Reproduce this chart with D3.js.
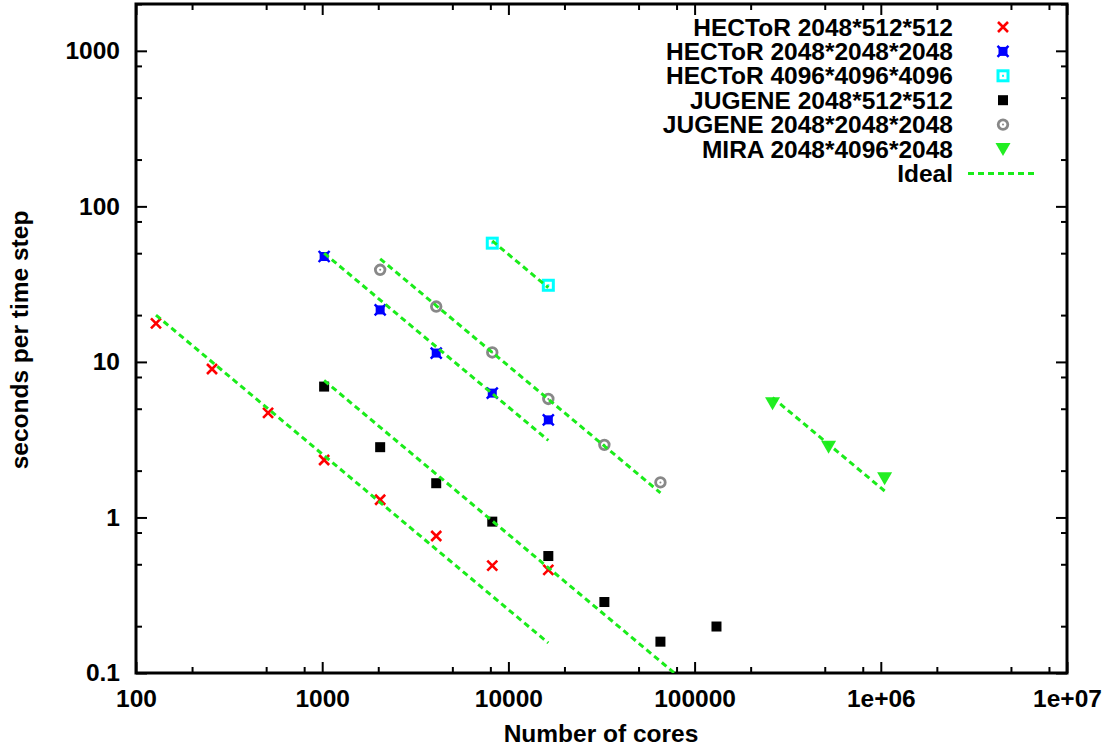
<!DOCTYPE html>
<html>
<head>
<meta charset="utf-8">
<script src="https://cdn.jsdelivr.net/npm/d3@7"></script>
<style>
  body { margin: 0; background: #fff; }
  text { font-family: "Liberation Sans", Arial, Helvetica, sans-serif; font-weight: bold; font-size: 24.5px; fill: #000; }
</style>
</head>
<body>
<div id="chart"></div>
<script>
// data (cores -> seconds per time step)
const hectorSmallCores = [128, 256, 512, 1024, 2048, 4096, 8192, 16384];
const hectorSmallTime  = [17.7, 9.0, 4.7, 2.34, 1.30, 0.76, 0.49, 0.46];

const hectorMidCores = [1024, 2048, 4096, 8192, 16384];
const hectorMidTime  = [47.6, 21.6, 11.4, 6.3, 4.24];

const hectorBigCores = [8192, 16384];
const hectorBigTime  = [58, 31.1];

const jugeneSmallCores = [1024, 2048, 4096, 8192, 16384, 32768, 65536, 131072];
const jugeneSmallTime  = [6.94, 2.83, 1.66, 0.94, 0.565, 0.286, 0.159, 0.199];

const jugeneMidCores = [2048, 4096, 8192, 16384, 32768, 65536];
const jugeneMidTime  = [39.1, 22.7, 11.5, 5.78, 2.93, 1.68];

const miraCores = [262144, 524288, 1048576];
const miraTime  = [5.42, 2.85, 1.79];

// ideal scaling segments: [start cores, start time, end cores, end time]
const idealLines = [
    [128, 20, 16384, 0.156],
    [1024, 7.6, 131072, 0.0594],
    [1024, 50, 16384, 3.13],
    [2048, 46, 65536, 1.44],
    [8192, 60, 16384, 30],
    [262144, 5.9, 1048576, 1.48]
];

const seriesNames = ['HECToR 2048*512*512', 'HECToR 2048*2048*2048', 'HECToR 4096*4096*4096',
    'JUGENE 2048*512*512', 'JUGENE 2048*2048*2048', 'MIRA 2048*4096*2048'];
const idealName = 'Ideal';

const xTicks = [100, 1000, 10000, 100000, 1e6, 1e7];
const xTickLabels = ['100', '1000', '10000', '100000', '1e+06', '1e+07'];
const yTicks = [0.1, 1, 10, 100, 1000];
const yTickLabels = ['0.1', '1', '10', '100', '1000'];

const series = [
    { name: seriesNames[0], x: hectorSmallCores, y: hectorSmallTime, sym: 'cross' },
    { name: seriesNames[1], x: hectorMidCores, y: hectorMidTime, sym: 'boxcross' },
    { name: seriesNames[2], x: hectorBigCores, y: hectorBigTime, sym: 'openbox' },
    { name: seriesNames[3], x: jugeneSmallCores, y: jugeneSmallTime, sym: 'box' },
    { name: seriesNames[4], x: jugeneMidCores, y: jugeneMidTime, sym: 'ring' },
    { name: seriesNames[5], x: miraCores, y: miraTime, sym: 'tri' }
];

const green = '#1aec1a';

const svg_width = 1112, svg_height = 752;
const margin = { top: 4, right: 45, bottom: 79, left: 136 };
const width = svg_width - margin.left - margin.right;
const height = svg_height - margin.top - margin.bottom;

const svg = d3.select('#chart').append('svg')
    .attr('width', svg_width).attr('height', svg_height);
const g = svg.append('g').attr('transform', `translate(${margin.left},${margin.top})`);

const xScale = d3.scaleLog().domain([100, 1e7]).range([0, width]);
const yScale = d3.scaleLog().domain([0.1, 2000]).range([height, 0]);

// minor ticks at 2, 5, 8 of each decade
const minorX = [];
[100, 1000, 10000, 100000, 1e6].forEach(d => [2, 5, 8].forEach(m => minorX.push(d * m)));
const minorY = [];
[0.1, 1, 10, 100, 1000].forEach(d => [2, 5, 8].forEach(m => { if (d * m <= 2000) minorY.push(d * m); }));

function styleAxis(sel) {
    sel.select('.domain').remove();
    sel.selectAll('line').attr('stroke', '#000').attr('stroke-width', 2);
    sel.selectAll('text').style('font-size', '24.5px').attr('fill', '#000');
}

// bottom axis
g.append('g').attr('transform', `translate(0,${height})`)
    .call(d3.axisBottom(xScale).tickValues(xTicks).tickFormat((d, i) => xTickLabels[i])
        .tickSizeInner(-11).tickSizeOuter(0).tickPadding(17))
    .call(styleAxis);
g.append('g').attr('transform', `translate(0,${height})`)
    .call(d3.axisBottom(xScale).tickValues(minorX).tickFormat('').tickSizeInner(-6).tickSizeOuter(0))
    .call(styleAxis);
// top mirror
g.append('g')
    .call(d3.axisTop(xScale).tickValues(xTicks).tickFormat('').tickSizeInner(-11).tickSizeOuter(0))
    .call(styleAxis);
g.append('g')
    .call(d3.axisTop(xScale).tickValues(minorX).tickFormat('').tickSizeInner(-6).tickSizeOuter(0))
    .call(styleAxis);
// left axis
g.append('g')
    .call(d3.axisLeft(yScale).tickValues(yTicks).tickFormat((d, i) => yTickLabels[i])
        .tickSizeInner(-11).tickSizeOuter(0).tickPadding(16))
    .call(styleAxis);
g.append('g')
    .call(d3.axisLeft(yScale).tickValues(minorY).tickFormat('').tickSizeInner(-6).tickSizeOuter(0))
    .call(styleAxis);
// right mirror
g.append('g').attr('transform', `translate(${width},0)`)
    .call(d3.axisRight(yScale).tickValues(yTicks).tickFormat('').tickSizeInner(-11).tickSizeOuter(0))
    .call(styleAxis);
g.append('g').attr('transform', `translate(${width},0)`)
    .call(d3.axisRight(yScale).tickValues(minorY).tickFormat('').tickSizeInner(-6).tickSizeOuter(0))
    .call(styleAxis);

// frame
g.append('rect').attr('width', width).attr('height', height)
    .attr('fill', 'none').attr('stroke', '#000').attr('stroke-width', 3);

// axis titles
svg.append('text').attr('x', 601).attr('y', 742)
    .attr('text-anchor', 'middle').text('Number of cores');
svg.append('text').attr('transform', `translate(28,340) rotate(-90)`)
    .attr('text-anchor', 'middle').text('seconds per time step');

// marker drawing
function drawSymbol(sel, sym) {
    if (sym === 'cross') {
        sel.append('path').attr('d', 'M-5,-5L5,5M-5,5L5,-5')
            .attr('stroke', '#f00').attr('stroke-width', 2.6).attr('fill', 'none');
    } else if (sym === 'boxcross') {
        sel.append('rect').attr('x', -4.5).attr('y', -4.5).attr('width', 9).attr('height', 9).attr('fill', '#00f');
        sel.append('path').attr('d', 'M-5.5,-5.5L5.5,5.5M-5.5,5.5L5.5,-5.5')
            .attr('stroke', '#00f').attr('stroke-width', 2.4).attr('fill', 'none');
    } else if (sym === 'openbox') {
        sel.append('rect').attr('x', -5).attr('y', -5).attr('width', 10).attr('height', 10)
            .attr('fill', '#fff').attr('stroke', '#0ff').attr('stroke-width', 3);
        sel.append('rect').attr('x', -1).attr('y', -1).attr('width', 2).attr('height', 2).attr('fill', '#0ff');
    } else if (sym === 'box') {
        sel.append('rect').attr('x', -5).attr('y', -5).attr('width', 10).attr('height', 10).attr('fill', '#000');
    } else if (sym === 'ring') {
        sel.append('circle').attr('r', 4.8).attr('fill', 'none').attr('stroke', '#888').attr('stroke-width', 2.8);
        sel.append('circle').attr('r', 1).attr('fill', '#888');
    } else if (sym === 'tri') {
        sel.append('path').attr('d', 'M-7.5,-6L7.5,-6L0,7Z').attr('fill', '#22ee22');
    }
}

// points
series.forEach(s => {
    const pts = s.x.map((x, i) => ({ x: x, y: s.y[i] }));
    g.append('g').selectAll('g.pt')
        .data(pts)
        .enter()
        .append('g')
        .attr('class', 'pt')
        .attr('transform', d => `translate(${xScale(d.x)},${yScale(d.y)})`)
        .each(function () { drawSymbol(d3.select(this), s.sym); });
});

// ideal lines, clipped to plot area
g.append('clipPath').attr('id', 'plotclip')
    .append('rect').attr('width', width).attr('height', height);
g.append('g').attr('clip-path', 'url(#plotclip)')
    .selectAll('line.ideal')
    .data(idealLines)
    .enter()
    .append('line')
    .attr('class', 'ideal')
    .attr('x1', d => xScale(d[0])).attr('y1', d => yScale(d[1]))
    .attr('x2', d => xScale(d[2])).attr('y2', d => yScale(d[3]))
    .attr('stroke', green).attr('stroke-width', 3).attr('stroke-dasharray', '6,4');

// legend
const legendTextX = 953, legendSymX = 1003, legendTop = 27, legendStep = 24.4;
const legend = svg.append('g');
series.forEach((s, i) => {
    const y = legendTop + i * legendStep;
    legend.append('text').attr('x', legendTextX).attr('y', y).attr('dy', '0.35em')
        .attr('text-anchor', 'end').text(s.name);
    const sg = legend.append('g').attr('transform', `translate(${legendSymX},${y})`);
    drawSymbol(sg, s.sym);
});
const iy = legendTop + 6 * legendStep;
legend.append('text').attr('x', legendTextX).attr('y', iy).attr('dy', '0.35em')
    .attr('text-anchor', 'end').text(idealName);
legend.append('line').attr('x1', 968).attr('x2', 1038).attr('y1', iy).attr('y2', iy)
    .attr('stroke', green).attr('stroke-width', 3).attr('stroke-dasharray', '6,4');
</script>
</body>
</html>
